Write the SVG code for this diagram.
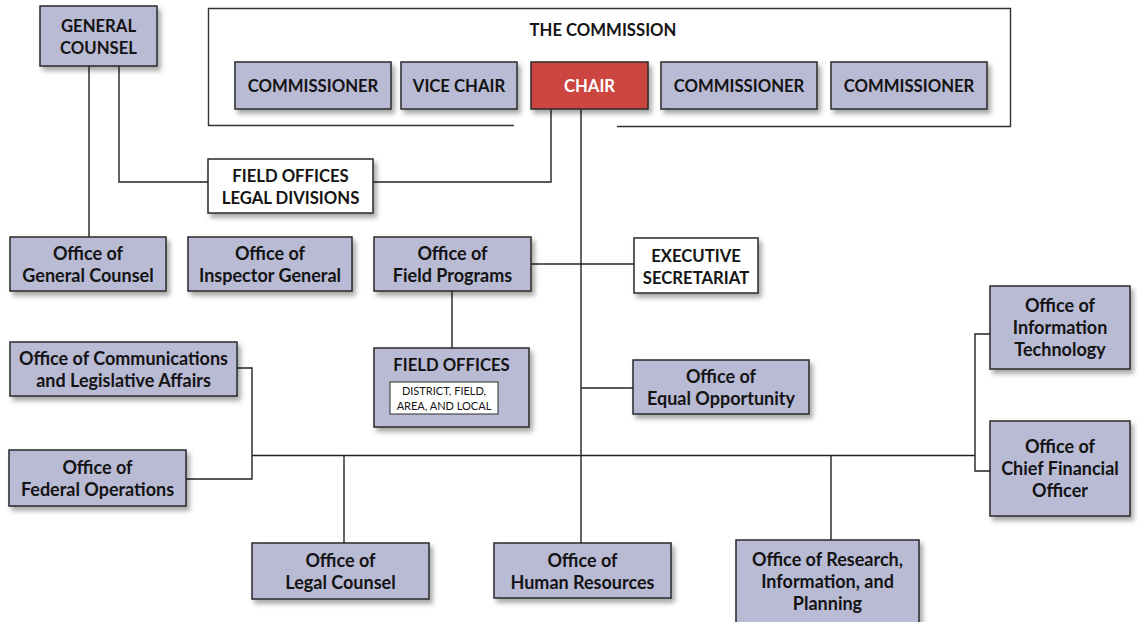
<svg xmlns="http://www.w3.org/2000/svg" width="1138" height="622" viewBox="0 0 1138 622">
<defs>
<filter id="sh" x="-10%" y="-10%" width="130%" height="140%">
<feDropShadow dx="3" dy="4" stdDeviation="2.5" flood-color="#000" flood-opacity="0.35"/>
</filter>
<style>
.box{fill:#b9bad4;stroke:#2a2a2a;stroke-width:1.5;filter:url(#sh)}
.wbox{fill:#fff;stroke:#2a2a2a;stroke-width:1.5;filter:url(#sh)}
.red{fill:#cc4440;stroke:#2a2a2a;stroke-width:1.5;filter:url(#sh)}
.inner{fill:#fff;stroke:#2a2a2a;stroke-width:1}
text{font-family:Lato,"Liberation Sans",sans-serif;font-weight:bold;font-size:16.7px;fill:#141414;text-anchor:middle}
.m{font-size:18px}
.w{fill:#fff}
.sm{font-weight:normal;font-size:11px}
.con path{fill:none;stroke:#222;stroke-width:1.4}
.frame{fill:none;stroke:#333;stroke-width:1.4}
</style>
</defs>
<rect width="1138" height="622" fill="#fff"/>
<g id="commission-frame">
<path class="frame" d="M514,125.5 H208.5 V8.5 H1010.5 V126.5 H617"/>
<text x="603" y="36">THE COMMISSION</text>
</g>
<g class="con" id="connectors">
<path d="M89,66 V237"/>
<path d="M119,66 V182 H208"/>
<path d="M373,182 H551 V109"/>
<path d="M581,109 V543"/>
<path d="M531,264 H634"/>
<path d="M452,291 V348"/>
<path d="M581,388 H633"/>
<path d="M252,455.5 H975"/>
<path d="M237,368 H252 V479 H186"/>
<path d="M344,455 V543"/>
<path d="M831,455 V540"/>
<path d="M990,334 H975 V471 H990"/>
</g>
<g id="general-counsel"><rect class="box" x="40" y="6" width="117" height="60"/><text x="98.5" y="32">GENERAL</text><text x="98.5" y="54">COUNSEL</text></g>
<g id="commissioner-1"><rect class="box" x="235" y="62" width="156" height="47"/><text x="313" y="92">COMMISSIONER</text></g>
<g id="vice-chair"><rect class="box" x="401" y="62" width="116" height="47"/><text x="459" y="92">VICE CHAIR</text></g>
<g id="chair"><rect class="red" x="531" y="62" width="117" height="47"/><text class="w" x="589.5" y="92">CHAIR</text></g>
<g id="commissioner-2"><rect class="box" x="661" y="62" width="156" height="47"/><text x="739" y="92">COMMISSIONER</text></g>
<g id="commissioner-3"><rect class="box" x="831" y="62" width="156" height="47"/><text x="909" y="92">COMMISSIONER</text></g>
<g id="field-offices-legal"><rect class="wbox" x="208" y="159" width="165" height="54"/><text x="290.5" y="182">FIELD OFFICES</text><text x="290.5" y="204">LEGAL DIVISIONS</text></g>
<g id="office-general-counsel"><rect class="box" x="10" y="237" width="156" height="54"/><text class="m" x="88" y="260">Office of</text><text class="m" x="88" y="282">General Counsel</text></g>
<g id="office-inspector-general"><rect class="box" x="188" y="237" width="164" height="54"/><text class="m" x="270" y="260">Office of</text><text class="m" x="270" y="282">Inspector General</text></g>
<g id="office-field-programs"><rect class="box" x="374" y="237" width="157" height="54"/><text class="m" x="452.5" y="260">Office of</text><text class="m" x="452.5" y="282">Field Programs</text></g>
<g id="executive-secretariat"><rect class="wbox" x="634" y="238" width="124" height="55"/><text x="696" y="262">EXECUTIVE</text><text x="696" y="284">SECRETARIAT</text></g>
<g id="field-offices"><rect class="box" x="374" y="348" width="155" height="79"/><text x="451.5" y="371">FIELD OFFICES</text><rect class="inner" x="390" y="382" width="108" height="32"/><text class="sm" x="444" y="395">DISTRICT, FIELD,</text><text class="sm" x="444" y="410">AREA, AND LOCAL</text></g>
<g id="office-equal-opportunity"><rect class="box" x="633" y="360" width="176" height="54"/><text class="m" x="721" y="383">Office of</text><text class="m" x="721" y="405">Equal Opportunity</text></g>
<g id="office-communications"><rect class="box" x="10" y="342" width="227" height="54"/><text class="m" x="123.5" y="365">Office of Communications</text><text class="m" x="123.5" y="387">and Legislative Affairs</text></g>
<g id="office-federal-operations"><rect class="box" x="9" y="450" width="177" height="56"/><text class="m" x="97.5" y="474">Office of</text><text class="m" x="97.5" y="496">Federal Operations</text></g>
<g id="office-information-technology"><rect class="box" x="990" y="286" width="140" height="83"/><text class="m" x="1060" y="312">Office of</text><text class="m" x="1060" y="334">Information</text><text class="m" x="1060" y="356">Technology</text></g>
<g id="office-cfo"><rect class="box" x="990" y="421" width="140" height="95"/><text class="m" x="1060" y="453">Office of</text><text class="m" x="1060" y="475">Chief Financial</text><text class="m" x="1060" y="497">Officer</text></g>
<g id="office-legal-counsel"><rect class="box" x="252" y="543" width="177" height="56"/><text class="m" x="340.5" y="567">Office of</text><text class="m" x="340.5" y="589">Legal Counsel</text></g>
<g id="office-human-resources"><rect class="box" x="494" y="543" width="177" height="55"/><text class="m" x="582.5" y="567">Office of</text><text class="m" x="582.5" y="589">Human Resources</text></g>
<g id="office-research"><rect class="box" x="736" y="540" width="183" height="90"/><text class="m" x="827.5" y="566">Office of Research,</text><text class="m" x="827.5" y="588">Information, and</text><text class="m" x="827.5" y="610">Planning</text></g>
</svg>
